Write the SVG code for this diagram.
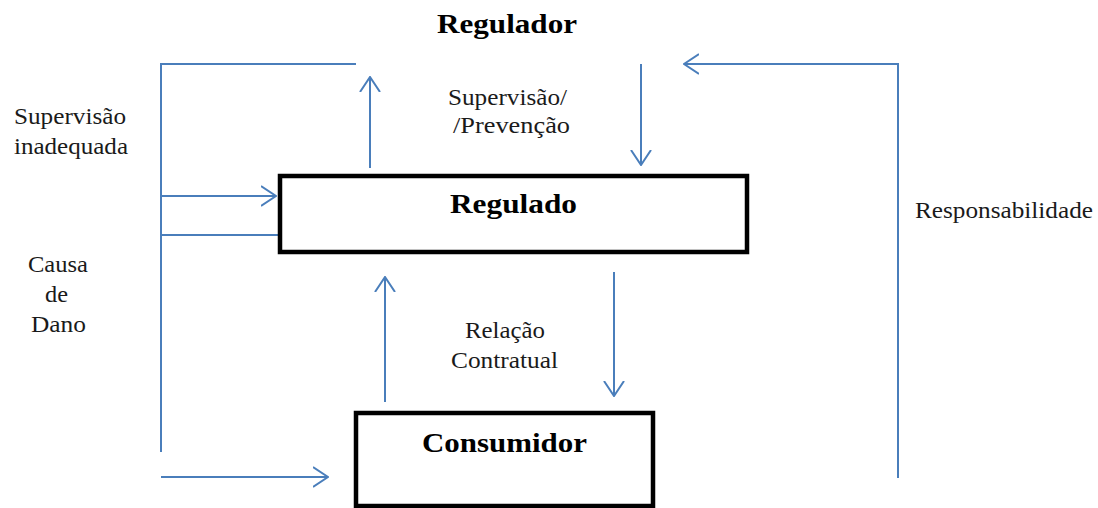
<svg xmlns="http://www.w3.org/2000/svg" width="1098" height="508" viewBox="0 0 1098 508">
<style>
.c{stroke:#4a7ebb;stroke-width:2;fill:none}
.box{fill:#fff;stroke:#000;stroke-width:4.5}
.t{font-family:"Liberation Serif",serif;font-size:23px;fill:#1a1a1a}
.b{font-family:"Liberation Serif",serif;font-size:28px;font-weight:bold;fill:#000}
</style>
<defs>
<marker id="a" viewBox="0 0 16 22" refX="15" refY="11" markerWidth="16" markerHeight="22" markerUnits="userSpaceOnUse" orient="auto">
<path d="M0,1 L15,11 L0,21" fill="none" stroke="#4a7ebb" stroke-width="2"/>
</marker>
</defs>
<rect width="1098" height="508" fill="#fff"/>
<g id="connectors">
<polyline class="c" points="356,64 161,64 161,452"/>
<line class="c" x1="370" y1="168" x2="370" y2="77" marker-end="url(#a)"/>
<line class="c" x1="161" y1="196" x2="276" y2="196" marker-end="url(#a)"/>
<line class="c" x1="161" y1="235" x2="282" y2="235"/>
<line class="c" x1="641" y1="64" x2="641" y2="165" marker-end="url(#a)"/>
<polyline class="c" points="898,478 898,64 684,64" marker-end="url(#a)"/>
<line class="c" x1="385" y1="402" x2="385" y2="277" marker-end="url(#a)"/>
<line class="c" x1="614" y1="272" x2="614" y2="396" marker-end="url(#a)"/>
<line class="c" x1="161" y1="477" x2="328" y2="477" marker-end="url(#a)"/>
</g>
<g id="regulador"><text class="b" x="437" y="33" textLength="140" lengthAdjust="spacingAndGlyphs">Regulador</text></g>
<g id="regulado">
<rect class="box" x="280" y="176" width="467" height="76"/>
<text class="b" x="450" y="213" textLength="127" lengthAdjust="spacingAndGlyphs">Regulado</text>
</g>
<g id="consumidor">
<rect class="box" x="356" y="413" width="297" height="93"/>
<text class="b" x="422" y="452" textLength="165" lengthAdjust="spacingAndGlyphs">Consumidor</text>
</g>
<g id="labels">
<text class="t" x="448" y="105" textLength="119" lengthAdjust="spacingAndGlyphs">Supervisão/</text>
<text class="t" x="453" y="133" textLength="117" lengthAdjust="spacingAndGlyphs">/Prevenção</text>
<text class="t" x="14" y="124" textLength="112" lengthAdjust="spacingAndGlyphs">Supervisão</text>
<text class="t" x="14" y="154" textLength="114" lengthAdjust="spacingAndGlyphs">inadequada</text>
<text class="t" x="28" y="272" textLength="60" lengthAdjust="spacingAndGlyphs">Causa</text>
<text class="t" x="45" y="302" textLength="23" lengthAdjust="spacingAndGlyphs">de</text>
<text class="t" x="31" y="332" textLength="55" lengthAdjust="spacingAndGlyphs">Dano</text>
<text class="t" x="465" y="338" textLength="80" lengthAdjust="spacingAndGlyphs">Relação</text>
<text class="t" x="451" y="368" textLength="107" lengthAdjust="spacingAndGlyphs">Contratual</text>
<text class="t" x="915" y="218" textLength="178" lengthAdjust="spacingAndGlyphs">Responsabilidade</text>
</g>
</svg>
